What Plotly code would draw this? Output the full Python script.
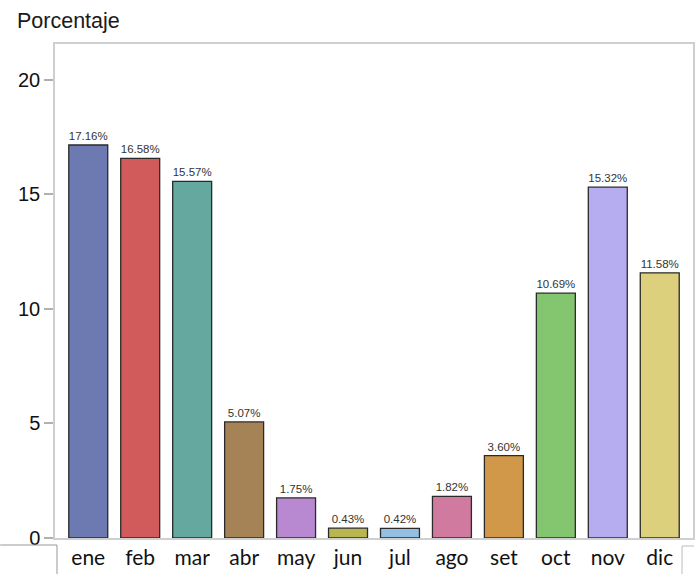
import plotly.graph_objects as go

months = ["ene", "feb", "mar", "abr", "may", "jun", "jul", "ago", "set", "oct", "nov", "dic"]
percent = [17.16, 16.58, 15.57, 5.07, 1.75, 0.43, 0.42, 1.82, 3.60, 10.69, 15.32, 11.58]
colors = ["#6d79b1", "#d15a5a", "#64a89f", "#a68357", "#b888d0", "#b9b54f",
          "#93c0e2", "#d17aa0", "#d29849", "#84c56f", "#b6adf0", "#ddd07d"]
y_ticks = [0, 5, 10, 15, 20]

fig = go.Figure(go.Bar(
    x=months, y=percent,
    marker=dict(color=colors, line=dict(color="#2a2a2a", width=1.3)),
    width=0.75,
    texttemplate="%{y:.2f}%", textposition="outside",
    textfont=dict(family="Liberation Sans, Arial", size=11.5, color="#333333"),
    cliponaxis=False,
))

fig.update_layout(
    width=696, height=574,
    margin=dict(l=55, r=1, t=44, b=36),
    paper_bgcolor="white", plot_bgcolor="white",
    showlegend=False,
    bargap=0.25,
    title=dict(text="Porcentaje", x=17/696, xanchor="left", xref="container",
               y=1 - 20/574, yanchor="middle", yref="container",
               font=dict(family="Liberation Sans, Arial", size=21.5, color="#1a1a1a")),
    xaxis=dict(range=[-0.64, 11.64], showgrid=False, zeroline=False,
               showline=True, linecolor="#cfcfcf", linewidth=1.5, mirror=True,
               ticks="", tickfont=dict(family="Lato, Open Sans", size=21, color="#111111")),
    yaxis=dict(range=[0, 21.57], tickvals=y_ticks, showgrid=False, zeroline=False,
               showline=True, linecolor="#cfcfcf", linewidth=1.5, mirror=True,
               ticks="outside", ticklen=9, tickcolor="#b0b0b0", tickwidth=1.5,
               tickfont=dict(family="Liberation Sans, Arial", size=20, color="#111111")),
    shapes=[
        dict(type="line", xref="paper", yref="paper", x0=-55/640, x1=2/640,
             y0=-7/494, y1=-7/494, line=dict(color="#999999", width=1)),
        dict(type="line", xref="paper", yref="paper", x0=2/640, x1=2/640,
             y0=-7/494, y1=-36/494, line=dict(color="#999999", width=1)),
        dict(type="line", xref="paper", yref="paper", x0=629/640, x1=641/640,
             y0=-8/494, y1=-8/494, line=dict(color="#bbbbbb", width=1)),
        dict(type="line", xref="paper", yref="paper", x0=629/640, x1=629/640,
             y0=-8/494, y1=-36/494, line=dict(color="#bbbbbb", width=1)),
    ],
)

fig.write_html("out.html", config={"displayModeBar": False},
               post_script="document.body.style.margin='0';document.body.style.overflow='hidden';")
